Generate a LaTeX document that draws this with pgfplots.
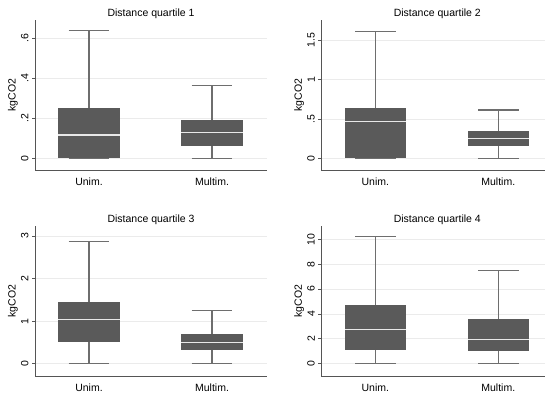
\documentclass[border=0pt]{standalone}
\usepackage{pgfplots}
\pgfplotsset{compat=1.18}
\usepgfplotslibrary{statistics}
\usepackage{fontspec}
\setmainfont{Liberation Sans}
\definecolor{boxc}{HTML}{5A5A5A}
\definecolor{whiskc}{HTML}{6E6E6E}
\definecolor{medc}{HTML}{E8E8E8}
\definecolor{axisc}{HTML}{555555}
\definecolor{gridc}{HTML}{EBEBEB}
\pgfplotsset{
  panel/.style={
    scale only axis, width=232pt, height=150pt,
    xmin=0.561, xmax=2.447,
    axis x line*=bottom, axis y line*=left,
    axis line style={draw=axisc, line width=0.8pt},
    xtick={1,2}, xticklabels={Unim.,Multim.},
    x tick style={draw=none},
    major tick length=3pt, tick align=outside,
    y tick style={draw=axisc, line width=0.8pt},
    ymajorgrids, grid style={draw=gridc, line width=0.8pt},
    yticklabel style={rotate=90, anchor=south, font=\fontsize{10.5}{12}\selectfont},
    xticklabel style={font=\fontsize{10.5}{12}\selectfont, yshift=-1pt},
    ylabel={kgCO2},
    ylabel style={at={(axis description cs:-0.095,0.5)}, anchor=center, font=\fontsize{10.5}{12}\selectfont},
    title style={at={(axis description cs:0.5,1)}, anchor=south, yshift=-8pt, font=\fontsize{10.5}{12}\selectfont},
    boxplot/draw direction=y,
    boxplot/box extend=0.5,
    boxplot/whisker extend=0.33,
    boxplot/every box/.style={draw=none, fill=boxc},
    boxplot/every whisker/.style={draw=whiskc, line width=1.1pt},
    boxplot/every median/.style={draw=medc, line width=1.4pt},
  },
  bx/.style={draw=whiskc, boxplot prepared={#1}},
}
\begin{document}
\begin{tikzpicture}[x=1pt,y=1pt]
% Panel 1
\begin{axis}[panel, at={(35pt,223pt)}, anchor=south west,
  title={Distance quartile 1}, ymin=-0.058, ymax=0.69,
  ytick={0,0.2,0.4,0.6}, yticklabels={0,.2,.4,.6}]
\addplot[bx={draw position=1, lower whisker=0, lower quartile=0, median=0.117, upper quartile=0.253, upper whisker=0.636}] coordinates {};
\addplot[bx={draw position=2, lower whisker=0, lower quartile=0.063, median=0.13, upper quartile=0.192, upper whisker=0.365}] coordinates {};
\end{axis}
% Panel 2
\begin{axis}[panel, at={(321.3pt,223pt)}, anchor=south west,
  title={Distance quartile 2}, ymin=-0.149, ymax=1.76,
  ytick={0,0.5,1,1.5}, yticklabels={0,.5,1,1.5}]
\addplot[bx={draw position=1, lower whisker=0, lower quartile=0, median=0.47, upper quartile=0.644, upper whisker=1.616}] coordinates {};
\addplot[bx={draw position=2, lower whisker=0, lower quartile=0.16, median=0.254, upper quartile=0.343, upper whisker=0.615}] coordinates {};
\end{axis}
% Panel 3
\begin{axis}[panel, at={(35pt,17pt)}, anchor=south west,
  title={Distance quartile 3}, ymin=-0.289, ymax=3.236,
  ytick={0,1,2,3}, yticklabels={0,1,2,3}]
\addplot[bx={draw position=1, lower whisker=0, lower quartile=0.517, median=1.04, upper quartile=1.45, upper whisker=2.88}] coordinates {};
\addplot[bx={draw position=2, lower whisker=0, lower quartile=0.315, median=0.494, upper quartile=0.70, upper whisker=1.255}] coordinates {};
\end{axis}
% Panel 4
\begin{axis}[panel, at={(321.3pt,17pt)}, anchor=south west,
  title={Distance quartile 4}, ymin=-0.99, ymax=11.07,
  ytick={0,2,4,6,8,10}, yticklabels={0,2,4,6,8,10}]
\addplot[bx={draw position=1, lower whisker=0, lower quartile=1.10, median=2.76, upper quartile=4.72, upper whisker=10.2}] coordinates {};
\addplot[bx={draw position=2, lower whisker=0, lower quartile=1.02, median=1.96, upper quartile=3.57, upper whisker=7.48}] coordinates {};
\end{axis}
\pgfresetboundingbox
\useasboundingbox (0pt,0pt) rectangle (545pt,393pt);
\end{tikzpicture}
\end{document}
